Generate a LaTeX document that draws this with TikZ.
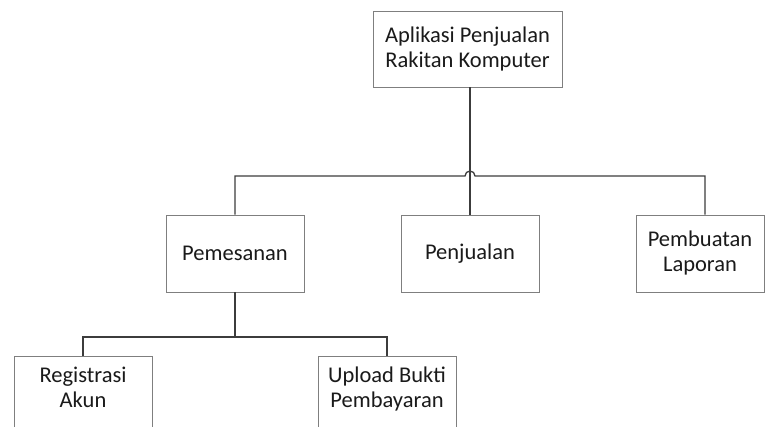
\documentclass[tikz,border=0pt]{standalone}
\usepackage{fontspec}
\setmainfont{Carlito}
\definecolor{ink}{HTML}{1A1A1A}
\definecolor{edge}{HTML}{7F7F7F}
\definecolor{wire}{HTML}{3C3C3C}
\tikzset{
  every node/.style={text=ink},
  module/.style={draw=edge, fill=white, line width=0.9pt, align=center, inner sep=0pt,
    minimum width=#1, minimum height=77pt, font=\fontsize{22.5}{25}\selectfont},
  module/.default=138pt,
  link/.style={draw=wire, line width=1.3pt},
}

\begin{document}
\begin{tikzpicture}[x=1pt, y=-1pt]

  \fill[white] (0, 0) rectangle (765, 427);
  \useasboundingbox (0, 0) rectangle (765, 427);

  % ---------------------------------------------------------------- root
  \node[module=189pt, minimum height=76pt] (root) at (467.5, 49)
    {Aplikasi Penjualan\\ Rakitan Komputer};

  % ---------------------------------------------------------------- level one
  \node[module] (pemesanan) at (235, 253.5) {Pemesanan};
  \node[module] (penjualan) at (470, 253.5) {Penjualan};
  \node[module=128pt] (laporan) at (700, 253.5) {Pembuatan\\ Laporan};

  \draw[link] (root.south -| penjualan.north) -- (penjualan.north);
  \coordinate (hop) at (penjualan.north |- 0, 176);
  \draw[link] (pemesanan.north) |- ([xshift=-5pt]hop)
    arc[start angle=180, end angle=0, radius=5pt]
    -| ([xshift=5pt]laporan.north);

  % ---------------------------------------------------------------- level two
  \node[module, anchor=north] (registrasi) at (83, 356)
    {Registrasi\\ Akun\\[-9pt] \mbox{}};
  \node[module, anchor=north] (upload) at (387, 356)
    {Upload Bukti\\ Pembayaran\\[-9pt] \mbox{}};

  \coordinate (fork) at (pemesanan.south |- 0, 337);
  \draw[link] (pemesanan.south) -- (fork);
  \draw[link] (registrasi.north) |- (fork) -| (upload.north);

\end{tikzpicture}
\end{document}
